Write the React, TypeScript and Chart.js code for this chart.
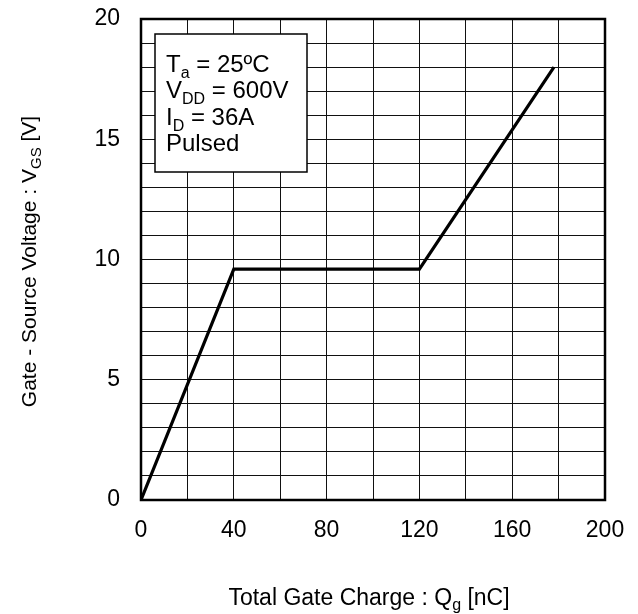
import React, { useEffect, useRef } from "react";
import { Chart, registerables } from "chart.js";

Chart.register(...registerables);

// Data
const gateCharge = [0, 40, 120, 178]; // nC
const gateVoltage = [0, 9.6, 9.6, 18]; // V
const xLabelStep = 40;
const yLabelStep = 5;
const xGridStep = 20;
const yGridStep = 1;
const conditionLines: { t: string; sub?: string; rest: string }[] = [
  { t: "T", sub: "a", rest: " = 25ºC" },
  { t: "V", sub: "DD", rest: " = 600V" },
  { t: "I", sub: "D", rest: " = 36A" },
  { t: "Pulsed", rest: "" },
];

const FONT = "'Liberation Sans', Arial, Helvetica, sans-serif";

type Part = { text: string; size: number; dy: number };

function partsWidth(ctx: CanvasRenderingContext2D, parts: Part[]) {
  let w = 0;
  for (const p of parts) {
    ctx.font = `${p.size}px ${FONT}`;
    w += ctx.measureText(p.text).width;
  }
  return w;
}

function drawParts(ctx: CanvasRenderingContext2D, parts: Part[], x: number, y: number) {
  let cx = x;
  for (const p of parts) {
    ctx.font = `${p.size}px ${FONT}`;
    ctx.fillText(p.text, cx, y + p.dy);
    cx += ctx.measureText(p.text).width;
  }
}

const decorPlugin = {
  id: "decor",
  afterDraw(chart: any) {
    const ctx: CanvasRenderingContext2D = chart.ctx;
    const a = chart.chartArea;
    ctx.save();
    // frame
    ctx.strokeStyle = "#000";
    ctx.lineWidth = 2.5;
    ctx.strokeRect(a.left, a.top, a.right - a.left, a.bottom - a.top);

    // conditions box
    const bx = 155, by = 34, bw = 152, bh = 138;
    ctx.fillStyle = "#fff";
    ctx.fillRect(bx, by, bw, bh);
    ctx.lineWidth = 1.5;
    ctx.strokeRect(bx, by, bw, bh);
    ctx.fillStyle = "#000";
    ctx.textBaseline = "alphabetic";
    ctx.textAlign = "left";
    const baselines = [72, 98, 125, 151];
    conditionLines.forEach((ln, i) => {
      const parts: Part[] = [{ text: ln.t, size: 24, dy: 0 }];
      if (ln.sub) parts.push({ text: ln.sub, size: 16, dy: 6 });
      if (ln.rest) parts.push({ text: ln.rest, size: 24, dy: 0 });
      drawParts(ctx, parts, 166, baselines[i]);
    });

    // x title
    const xParts: Part[] = [
      { text: "Total Gate Charge : Q", size: 23, dy: 0 },
      { text: "g", size: 16, dy: 5 },
      { text: " [nC]", size: 23, dy: 0 },
    ];
    const xw = partsWidth(ctx, xParts);
    const xc = (a.left + a.right) / 2 - 4;
    drawParts(ctx, xParts, xc - xw / 2, 605);

    // y title
    const yParts: Part[] = [
      { text: "Gate - Source Voltage : V", size: 21, dy: 0 },
      { text: "GS", size: 15, dy: 5 },
      { text: " [V]", size: 21, dy: 0 },
    ];
    const yw = partsWidth(ctx, yParts);
    const yc = (a.top + a.bottom) / 2 + 2;
    ctx.translate(36, yc);
    ctx.rotate(-Math.PI / 2);
    drawParts(ctx, yParts, -yw / 2, 0);
    ctx.restore();
  },
};

export default function App() {
  const ref = useRef<HTMLCanvasElement | null>(null);
  useEffect(() => {
    if (!ref.current) return;
    const chart = new Chart(ref.current, {
      type: "line",
      data: {
        datasets: [
          {
            data: gateCharge.map((x, i) => ({ x, y: gateVoltage[i] })),
            borderColor: "#000",
            borderWidth: 3.2,
            pointRadius: 0,
            tension: 0,
            fill: false,
          },
        ],
      },
      options: {
        animation: false,
        responsive: false,
        devicePixelRatio: 1,
        layout: { padding: { left: 0, right: 33, top: 19, bottom: 0 } },
        plugins: { legend: { display: false }, tooltip: { enabled: false } },
        scales: {
          x: {
            type: "linear",
            min: 0,
            max: 200,
            afterFit: (s: any) => {
              s.height = 114;
              s.paddingLeft = 0;
              s.paddingRight = 0;
            },
            border: { display: false },
            grid: { color: "#111", lineWidth: 1, drawTicks: false },
            ticks: {
              stepSize: xGridStep,
              autoSkip: false,
              maxRotation: 0,
              padding: 17,
              color: "#000",
              font: { family: FONT, size: 23 },
              callback: (v: any) => (Number(v) % xLabelStep === 0 ? String(v) : ""),
            },
          },
          y: {
            type: "linear",
            min: 0,
            max: 20,
            afterFit: (s: any) => {
              s.width = 141;
              s.paddingTop = 0;
              s.paddingBottom = 0;
            },
            border: { display: false },
            grid: { color: "#111", lineWidth: 1, drawTicks: false },
            ticks: {
              stepSize: yGridStep,
              autoSkip: false,
              padding: 21,
              color: "#000",
              font: { family: FONT, size: 23 },
              callback: (v: any) => (Number(v) % yLabelStep === 0 ? String(v) : ""),
            },
          },
        },
      },
      plugins: [decorPlugin],
    });
    return () => chart.destroy();
  }, []);
  return (
    <div style={{ position: "absolute", left: 0, top: 0, width: 638, height: 614, background: "#fff" }}>
      <canvas ref={ref} width={638} height={614} />
    </div>
  );
}
